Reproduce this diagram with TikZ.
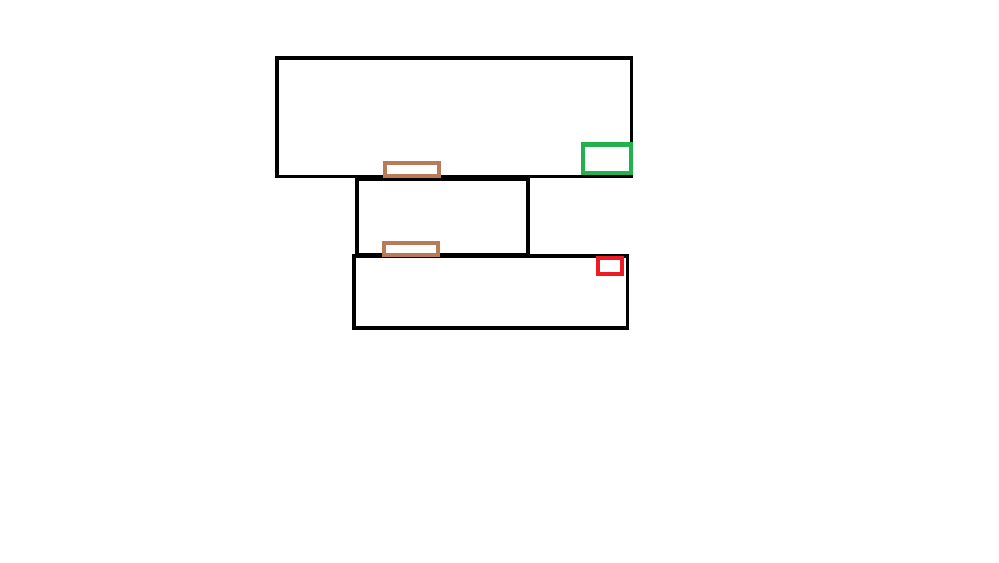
\documentclass[tikz,border=0pt]{standalone}
\definecolor{paintbrown}{RGB}{185,122,87}
\definecolor{paintgreen}{RGB}{34,177,76}
\definecolor{paintred}{RGB}{237,28,36}
\begin{document}
\begin{tikzpicture}[x=0.75pt, y=-0.75pt,
  frame/.style={line width=2.7pt, draw=black},
  pad/.style={line width=3pt, draw=paintbrown},
  mark box/.style={line width=3.2pt}]
\useasboundingbox (0,0) rectangle (999,562);
\draw[frame] (277,58) rectangle (631.5,176.5);
\draw[frame] (357,179.6) rectangle (528,255);
\draw[frame] (353.7,256) rectangle (627.5,328);
\draw[pad] (385.3,163) rectangle (439,176.3);
\draw[pad] (383.7,243) rectangle (438.3,255.3);
\draw[mark box, draw=paintgreen] (583.3,144.5) rectangle (631.3,173);
\draw[mark box, draw=paintred] (597.8,257.7) rectangle (622.3,273.7);
\end{tikzpicture}
\end{document}
